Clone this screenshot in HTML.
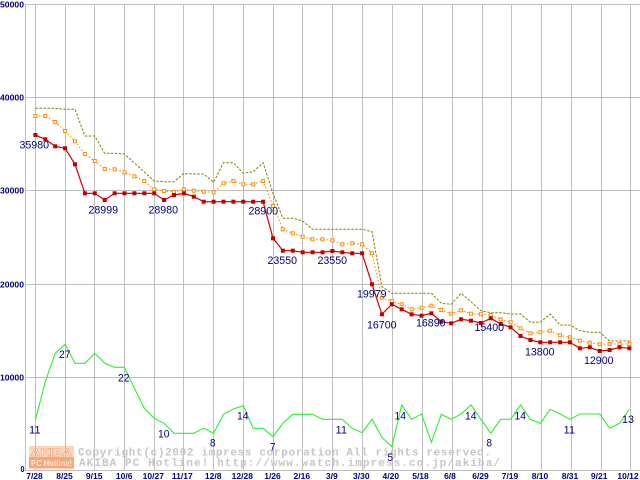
<!DOCTYPE html>
<html>
<head>
<meta charset="utf-8">
<style>
  html,body{margin:0;padding:0;background:#fff;}
  svg{display:block;}
  .ax{font-family:"Liberation Sans",sans-serif;font-weight:bold;font-size:8.5px;fill:#000080;}
  .lb{font-family:"Liberation Sans",sans-serif;font-size:11px;fill:#000080;}
  .wm{font-family:"Liberation Mono",monospace;font-weight:bold;font-size:11px;fill:#c6c6c6;}
</style>
</head>
<body>
<svg width="640" height="480" viewBox="0 0 640 480" xmlns="http://www.w3.org/2000/svg">
  <rect x="0" y="0" width="640" height="480" fill="#fff"/>

  <!-- watermark -->
  <rect x="29" y="446" width="45" height="11" fill="#fcd6b9"/>
  <rect x="29" y="457" width="45" height="11.5" fill="#f6a77c"/>
  <text x="31" y="456" font-family="Liberation Sans,sans-serif" font-weight="bold" font-size="11" fill="#fff2e8" stroke="#f0a070" stroke-width="0.5" textLength="41" lengthAdjust="spacingAndGlyphs">AKIBA</text>
  <text x="31" y="466" font-family="Liberation Sans,sans-serif" font-weight="bold" font-size="8" fill="#ffece0" textLength="41" lengthAdjust="spacingAndGlyphs">PC Hotline!</text>
  <text class="wm" x="78" y="455.5" textLength="413" lengthAdjust="spacing">Copyright(c)2002 impress corporation All rights reserved.</text>
  <text class="wm" x="79" y="466" textLength="421" lengthAdjust="spacing">AKIBA PC Hotline!  http://www.watch.impress.co.jp/akiba/</text>

  <!-- grid -->
  <g stroke="#bfbfbf" stroke-width="1" shape-rendering="crispEdges">
    <line x1="25" y1="4.5" x2="640" y2="4.5"/>
    <line x1="25" y1="97.5" x2="640" y2="97.5"/>
    <line x1="25" y1="190.5" x2="640" y2="190.5"/>
    <line x1="25" y1="284.5" x2="640" y2="284.5"/>
    <line x1="25" y1="377.5" x2="640" y2="377.5"/>
    <line x1="25" y1="470.5" x2="640" y2="470.5"/>
    <line x1="25.5" y1="4" x2="25.5" y2="471"/>
    <line x1="35.5" y1="4" x2="35.5" y2="471"/>
    <line x1="65.5" y1="4" x2="65.5" y2="471"/>
    <line x1="94.5" y1="4" x2="94.5" y2="471"/>
    <line x1="124.5" y1="4" x2="124.5" y2="471"/>
    <line x1="154.5" y1="4" x2="154.5" y2="471"/>
    <line x1="183.5" y1="4" x2="183.5" y2="471"/>
    <line x1="213.5" y1="4" x2="213.5" y2="471"/>
    <line x1="243.5" y1="4" x2="243.5" y2="471"/>
    <line x1="273.5" y1="4" x2="273.5" y2="471"/>
    <line x1="302.5" y1="4" x2="302.5" y2="471"/>
    <line x1="332.5" y1="4" x2="332.5" y2="471"/>
    <line x1="362.5" y1="4" x2="362.5" y2="471"/>
    <line x1="392.5" y1="4" x2="392.5" y2="471"/>
    <line x1="422.5" y1="4" x2="422.5" y2="471"/>
    <line x1="452.5" y1="4" x2="452.5" y2="471"/>
    <line x1="482.5" y1="4" x2="482.5" y2="471"/>
    <line x1="511.5" y1="4" x2="511.5" y2="471"/>
    <line x1="541.5" y1="4" x2="541.5" y2="471"/>
    <line x1="571.5" y1="4" x2="571.5" y2="471"/>
    <line x1="601.5" y1="4" x2="601.5" y2="471"/>
    <line x1="630.5" y1="4" x2="630.5" y2="471"/>
  </g>

  <!-- y axis labels -->
  <text class="ax" x="0" y="7.5" textLength="24" lengthAdjust="spacingAndGlyphs">50000</text>
  <text class="ax" x="0" y="100.5" textLength="24" lengthAdjust="spacingAndGlyphs">40000</text>
  <text class="ax" x="0" y="193.5" textLength="24" lengthAdjust="spacingAndGlyphs">30000</text>
  <text class="ax" x="0" y="287.5" textLength="24" lengthAdjust="spacingAndGlyphs">20000</text>
  <text class="ax" x="0" y="380.5" textLength="24" lengthAdjust="spacingAndGlyphs">10000</text>
  <text class="ax" x="20.5" y="472" font-size="7" textLength="4" lengthAdjust="spacingAndGlyphs">0</text>

  <!-- x axis labels -->
  <g class="ax" text-anchor="middle">
    <text x="34.5" y="479">7/28</text>
    <text x="64.5" y="479">8/25</text>
    <text x="94.2" y="479">9/15</text>
    <text x="124.2" y="479">10/6</text>
    <text x="153.3" y="479">10/27</text>
    <text x="182.3" y="479">11/17</text>
    <text x="213.2" y="479">12/8</text>
    <text x="242.3" y="479">12/28</text>
    <text x="272.5" y="479">1/26</text>
    <text x="301.8" y="479">2/16</text>
    <text x="331.8" y="479">3/9</text>
    <text x="361.3" y="479">3/30</text>
    <text x="390.8" y="479">4/20</text>
    <text x="420.5" y="479">5/18</text>
    <text x="450" y="479">6/8</text>
    <text x="480.5" y="479">6/29</text>
    <text x="510" y="479">7/19</text>
    <text x="540" y="479">8/10</text>
    <text x="570" y="479">8/31</text>
    <text x="599.2" y="479">9/21</text>
    <text x="628" y="479">10/12</text>
  </g>

  <!-- green count series -->
  <polyline fill="none" stroke="#2cf02c" stroke-width="1.1" points="35.4,420 45.3,381.7 55.2,353.3 65.1,344.3 75,363.3 84.9,363.3 94.8,353.3 104.7,363.3 114.6,367.3 124.5,367.3 134.4,388.3 144.3,408.3 154.2,418.3 164.1,423.3 174,433.3 183.9,433.3 193.8,433.3 203.7,428.3 213.6,433.3 223.5,414.3 233.4,409 243.3,405.7 253.2,428.3 263.1,428.3 273,436.7 282.9,423.3 292.8,414.3 302.7,414.3 312.6,414.3 322.5,419.3 332.4,419.3 342.3,419.3 352.2,428.3 362.1,432.7 372,419.3 381.9,437.3 391.8,446.7 401.7,405 411.6,419.3 421.5,414 431.4,442.3 441.3,414.3 451.2,419.3 461.1,414 471,405 480.9,419.3 490.8,433.3 500.7,419.3 510.6,419.3 520.5,405 530.4,419.3 540.3,423.3 550.2,409.3 560.1,414 570,419.3 579.9,414 589.8,414 599.7,414 609.6,428.3 619.5,423.3 629.4,409.3"/>

  <!-- olive dashed series -->
  <polyline fill="none" stroke="#808000" stroke-width="1" stroke-dasharray="2.5 1.5" points="35.4,108.3 45.3,108.3 55.2,108.3 65.1,109.3 75,109.3 84.9,136 94.8,136 104.7,153.3 114.6,153.3 124.5,154 134.4,163 144.3,172 154.2,181 164.1,181.7 174,181.7 183.9,173.5 193.8,174 203.7,174 213.6,182.3 223.5,162.7 233.4,162.7 243.3,173.3 253.2,171.7 263.1,162.7 273,193.3 282.9,218.3 292.8,218.3 302.7,221 312.6,229.3 322.5,229.3 332.4,229.3 342.3,229.3 352.2,229.3 362.1,229.3 372,231.7 381.9,286.7 391.8,293.3 401.7,293.3 411.6,293.3 421.5,293.3 431.4,293.3 441.3,303.3 451.2,304.3 461.1,293.3 471,301.7 480.9,310.7 490.8,312.7 500.7,312.7 510.6,314 520.5,314 530.4,322.3 540.3,322.3 550.2,314 560.1,325 570,325 579.9,330.7 589.8,332.3 599.7,332.3 609.6,341 619.5,341 629.4,341"/>

  <!-- orange dotted series -->
  <polyline fill="none" stroke="#ff8c00" stroke-width="1.1" stroke-dasharray="1.5 2" points="35.4,116 45.3,116 55.2,122 65.1,131 75,141.3 84.9,154 94.8,161 104.7,169 114.6,169.3 124.5,172.3 134.4,176.3 144.3,181 154.2,189.3 164.1,191 174,192 183.9,189.3 193.8,190.7 203.7,191.7 213.6,192.3 223.5,183.3 233.4,181 243.3,184.3 253.2,184.3 263.1,181 273,206 282.9,229.3 292.8,233.3 302.7,236.7 312.6,239.3 322.5,239.3 332.4,240.3 342.3,244.3 352.2,243.3 362.1,244.3 372,253.3 381.9,297.7 391.8,301 401.7,304.3 411.6,309.3 421.5,307.7 431.4,305.7 441.3,310 451.2,313.7 461.1,310.3 471,313.7 480.9,314.2 490.8,315 500.7,319.3 510.6,322.3 520.5,328.3 530.4,333.3 540.3,332.3 550.2,330.7 560.1,335.3 570,337.3 579.9,340.7 589.8,342.7 599.7,344.3 609.6,344 619.5,344 629.4,344"/>
  <g fill="#fff" stroke="#ff8c00" stroke-width="1">
    <rect x="33.9" y="114.5" width="3" height="3"/><rect x="43.8" y="114.5" width="3" height="3"/><rect x="53.7" y="120.5" width="3" height="3"/><rect x="63.6" y="129.5" width="3" height="3"/><rect x="73.5" y="139.8" width="3" height="3"/><rect x="83.4" y="152.5" width="3" height="3"/><rect x="93.3" y="159.5" width="3" height="3"/><rect x="103.2" y="167.5" width="3" height="3"/><rect x="113.1" y="167.8" width="3" height="3"/><rect x="123" y="170.8" width="3" height="3"/><rect x="132.9" y="174.8" width="3" height="3"/><rect x="142.8" y="179.5" width="3" height="3"/><rect x="152.7" y="187.8" width="3" height="3"/><rect x="162.6" y="189.5" width="3" height="3"/><rect x="172.5" y="190.5" width="3" height="3"/><rect x="182.4" y="187.8" width="3" height="3"/><rect x="192.3" y="189.2" width="3" height="3"/><rect x="202.2" y="190.2" width="3" height="3"/><rect x="212.1" y="190.8" width="3" height="3"/><rect x="222" y="181.8" width="3" height="3"/><rect x="231.9" y="179.5" width="3" height="3"/><rect x="241.8" y="182.8" width="3" height="3"/><rect x="251.7" y="182.8" width="3" height="3"/><rect x="261.6" y="179.5" width="3" height="3"/><rect x="271.5" y="204.5" width="3" height="3"/><rect x="281.4" y="227.8" width="3" height="3"/><rect x="291.3" y="231.8" width="3" height="3"/><rect x="301.2" y="235.2" width="3" height="3"/><rect x="311.1" y="237.8" width="3" height="3"/><rect x="321" y="237.8" width="3" height="3"/><rect x="330.9" y="238.8" width="3" height="3"/><rect x="340.8" y="242.8" width="3" height="3"/><rect x="350.7" y="241.8" width="3" height="3"/><rect x="360.6" y="242.8" width="3" height="3"/><rect x="370.5" y="251.8" width="3" height="3"/><rect x="380.4" y="296.2" width="3" height="3"/><rect x="390.3" y="299.5" width="3" height="3"/><rect x="400.2" y="302.8" width="3" height="3"/><rect x="410.1" y="307.8" width="3" height="3"/><rect x="420" y="306.2" width="3" height="3"/><rect x="429.9" y="304.2" width="3" height="3"/><rect x="439.8" y="308.5" width="3" height="3"/><rect x="449.7" y="312.2" width="3" height="3"/><rect x="459.6" y="308.8" width="3" height="3"/><rect x="469.5" y="312.2" width="3" height="3"/><rect x="479.4" y="312.7" width="3" height="3"/><rect x="489.3" y="313.5" width="3" height="3"/><rect x="499.2" y="317.8" width="3" height="3"/><rect x="509.1" y="320.8" width="3" height="3"/><rect x="519" y="326.8" width="3" height="3"/><rect x="528.9" y="331.8" width="3" height="3"/><rect x="538.8" y="330.8" width="3" height="3"/><rect x="548.7" y="329.2" width="3" height="3"/><rect x="558.6" y="333.8" width="3" height="3"/><rect x="568.5" y="335.8" width="3" height="3"/><rect x="578.4" y="339.2" width="3" height="3"/><rect x="588.3" y="341.2" width="3" height="3"/><rect x="598.2" y="342.8" width="3" height="3"/><rect x="608.1" y="342.5" width="3" height="3"/><rect x="618" y="342.5" width="3" height="3"/><rect x="627.9" y="342.5" width="3" height="3"/>
  </g>

  <!-- red solid series -->
  <polyline fill="none" stroke="#cc0000" stroke-width="1.2" points="35.4,135 45.3,139.3 55.2,146.3 65.1,148.3 75,164.3 84.9,193.3 94.8,193.3 104.7,200 114.6,193.3 124.5,193.3 134.4,193.3 144.3,193.3 154.2,193.3 164.1,200 174,195 183.9,193.3 193.8,196.7 203.7,201.7 213.6,201.7 223.5,201.7 233.4,201.7 243.3,201.7 253.2,201.7 263.1,201.7 273,238.3 282.9,250.7 292.8,250.7 302.7,252.3 312.6,252.3 322.5,252.3 332.4,251 342.3,252.3 352.2,253.3 362.1,253.3 372,284.3 381.9,314.3 391.8,304.3 401.7,309.3 411.6,314.3 421.5,315.7 431.4,313.3 441.3,321.7 451.2,323.3 461.1,319.3 471,320.7 480.9,323 490.8,318.3 500.7,324 510.6,327.3 520.5,336 530.4,340 540.3,342.3 550.2,342.3 560.1,342.3 570,342.3 579.9,348.3 589.8,347.3 599.7,351 609.6,350 619.5,347.3 629.4,348.3"/>
  <g fill="#c00000">
    <rect x="33.4" y="133" width="4" height="4"/><rect x="43.3" y="137.3" width="4" height="4"/><rect x="53.2" y="144.3" width="4" height="4"/><rect x="63.1" y="146.3" width="4" height="4"/><rect x="73" y="162.3" width="4" height="4"/><rect x="82.9" y="191.3" width="4" height="4"/><rect x="92.8" y="191.3" width="4" height="4"/><rect x="102.7" y="198" width="4" height="4"/><rect x="112.6" y="191.3" width="4" height="4"/><rect x="122.5" y="191.3" width="4" height="4"/><rect x="132.4" y="191.3" width="4" height="4"/><rect x="142.3" y="191.3" width="4" height="4"/><rect x="152.2" y="191.3" width="4" height="4"/><rect x="162.1" y="198" width="4" height="4"/><rect x="172" y="193" width="4" height="4"/><rect x="181.9" y="191.3" width="4" height="4"/><rect x="191.8" y="194.7" width="4" height="4"/><rect x="201.7" y="199.7" width="4" height="4"/><rect x="211.6" y="199.7" width="4" height="4"/><rect x="221.5" y="199.7" width="4" height="4"/><rect x="231.4" y="199.7" width="4" height="4"/><rect x="241.3" y="199.7" width="4" height="4"/><rect x="251.2" y="199.7" width="4" height="4"/><rect x="261.1" y="199.7" width="4" height="4"/><rect x="271" y="236.3" width="4" height="4"/><rect x="280.9" y="248.7" width="4" height="4"/><rect x="290.8" y="248.7" width="4" height="4"/><rect x="300.7" y="250.3" width="4" height="4"/><rect x="310.6" y="250.3" width="4" height="4"/><rect x="320.5" y="250.3" width="4" height="4"/><rect x="330.4" y="249" width="4" height="4"/><rect x="340.3" y="250.3" width="4" height="4"/><rect x="350.2" y="251.3" width="4" height="4"/><rect x="360.1" y="251.3" width="4" height="4"/><rect x="370" y="282.3" width="4" height="4"/><rect x="379.9" y="312.3" width="4" height="4"/><rect x="389.8" y="302.3" width="4" height="4"/><rect x="399.7" y="307.3" width="4" height="4"/><rect x="409.6" y="312.3" width="4" height="4"/><rect x="419.5" y="313.7" width="4" height="4"/><rect x="429.4" y="311.3" width="4" height="4"/><rect x="439.3" y="319.7" width="4" height="4"/><rect x="449.2" y="321.3" width="4" height="4"/><rect x="459.1" y="317.3" width="4" height="4"/><rect x="469" y="318.7" width="4" height="4"/><rect x="478.9" y="321" width="4" height="4"/><rect x="488.8" y="316.3" width="4" height="4"/><rect x="498.7" y="322" width="4" height="4"/><rect x="508.6" y="325.3" width="4" height="4"/><rect x="518.5" y="334" width="4" height="4"/><rect x="528.4" y="338" width="4" height="4"/><rect x="538.3" y="340.3" width="4" height="4"/><rect x="548.2" y="340.3" width="4" height="4"/><rect x="558.1" y="340.3" width="4" height="4"/><rect x="568" y="340.3" width="4" height="4"/><rect x="577.9" y="346.3" width="4" height="4"/><rect x="587.8" y="345.3" width="4" height="4"/><rect x="597.7" y="349" width="4" height="4"/><rect x="607.6" y="348" width="4" height="4"/><rect x="617.5" y="345.3" width="4" height="4"/><rect x="627.4" y="346.3" width="4" height="4"/>
  </g>

  <!-- price labels -->
  <text class="lb" x="19.5" y="148.5" textLength="29.5" lengthAdjust="spacingAndGlyphs">35980</text>
  <text class="lb" x="88.5" y="213.5" textLength="29.5" lengthAdjust="spacingAndGlyphs">28999</text>
  <text class="lb" x="148.5" y="213.5" textLength="29.5" lengthAdjust="spacingAndGlyphs">28980</text>
  <text class="lb" x="248.5" y="214.5" textLength="29.5" lengthAdjust="spacingAndGlyphs">28900</text>
  <text class="lb" x="267.5" y="264" textLength="29.5" lengthAdjust="spacingAndGlyphs">23550</text>
  <text class="lb" x="317.5" y="264" textLength="29.5" lengthAdjust="spacingAndGlyphs">23550</text>
  <text class="lb" x="357" y="297.5" textLength="29.5" lengthAdjust="spacingAndGlyphs">19979</text>
  <text class="lb" x="367" y="328.5" textLength="29.5" lengthAdjust="spacingAndGlyphs">16700</text>
  <text class="lb" x="416" y="326.5" textLength="29.5" lengthAdjust="spacingAndGlyphs">16890</text>
  <text class="lb" x="474.5" y="331" textLength="29.5" lengthAdjust="spacingAndGlyphs">15400</text>
  <text class="lb" x="525" y="355.5" textLength="29.5" lengthAdjust="spacingAndGlyphs">13800</text>
  <text class="lb" x="584" y="364" textLength="29.5" lengthAdjust="spacingAndGlyphs">12900</text>

  <!-- count labels -->
  <text class="lb" x="29" y="433.5" textLength="11.5" lengthAdjust="spacingAndGlyphs">11</text>
  <text class="lb" x="59" y="358" textLength="11.5" lengthAdjust="spacingAndGlyphs">27</text>
  <text class="lb" x="118" y="381.5" textLength="11.5" lengthAdjust="spacingAndGlyphs">22</text>
  <text class="lb" x="158" y="437.5" textLength="11.5" lengthAdjust="spacingAndGlyphs">10</text>
  <text class="lb" x="210" y="446.5" textLength="5.5" lengthAdjust="spacingAndGlyphs">8</text>
  <text class="lb" x="237" y="419.5" textLength="11.5" lengthAdjust="spacingAndGlyphs">14</text>
  <text class="lb" x="270" y="450.5" textLength="5.5" lengthAdjust="spacingAndGlyphs">7</text>
  <text class="lb" x="335.5" y="433.5" textLength="11.5" lengthAdjust="spacingAndGlyphs">11</text>
  <text class="lb" x="394.5" y="419.5" textLength="11.5" lengthAdjust="spacingAndGlyphs">14</text>
  <text class="lb" x="387.5" y="461" textLength="5.5" lengthAdjust="spacingAndGlyphs">5</text>
  <text class="lb" x="465" y="419.5" textLength="11.5" lengthAdjust="spacingAndGlyphs">14</text>
  <text class="lb" x="486.5" y="446.5" textLength="5.5" lengthAdjust="spacingAndGlyphs">8</text>
  <text class="lb" x="514.5" y="419.5" textLength="11.5" lengthAdjust="spacingAndGlyphs">14</text>
  <text class="lb" x="563.5" y="433.5" textLength="11.5" lengthAdjust="spacingAndGlyphs">11</text>
  <text class="lb" x="622" y="423" textLength="12" lengthAdjust="spacingAndGlyphs">13</text>
</svg>
</body>
</html>
